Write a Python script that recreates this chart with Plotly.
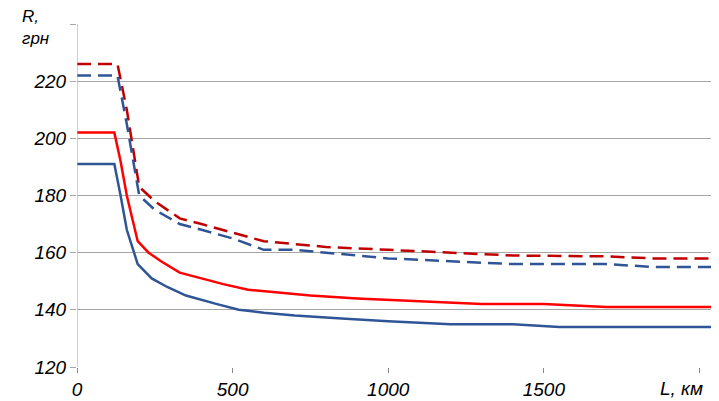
import plotly.graph_objects as go

# distance, km
x_rd = [0, 130, 160, 200, 250, 330, 400, 500, 600, 700, 800, 1000, 1200, 1400, 1700, 1850, 2050]
y_rd = [226, 226, 210, 183, 178, 172, 170, 167, 164, 163, 162, 161, 160, 159, 158.7, 158, 158]
x_bd = [0, 130, 160, 200, 250, 330, 400, 500, 600, 700, 800, 1000, 1200, 1400, 1700, 1850, 2050]
y_bd = [222, 222, 205, 180, 175, 170, 168, 165, 161, 161, 160, 158, 157, 156, 156, 155, 155]
x_rs = [0, 120, 140, 160, 195, 230, 270, 330, 400, 470, 550, 650, 750, 900, 1100, 1300, 1500, 1700, 2050]
y_rs = [202, 202, 192, 180, 164, 160, 157, 153, 151, 149, 147, 146, 145, 144, 143, 142, 142, 141, 141]
x_bs = [0, 120, 140, 160, 195, 240, 290, 350, 450, 520, 600, 700, 850, 1000, 1200, 1400, 1550, 2050]
y_bs = [191, 191, 180, 168, 156, 151, 148, 145, 142, 140, 139, 138, 137, 136, 135, 135, 134, 134]

x_ticks = [0, 500, 1000, 1500, 2000]
x_labels = ["<i>0</i>", "<i>500</i>", "<i>1000</i>", "<i>1500</i>", ""]
y_ticks = [120, 140, 160, 180, 200, 220, 240]
y_labels = ["<i>120</i>", "<i>140</i>", "<i>160</i>", "<i>180</i>", "<i>200</i>", "<i>220</i>", ""]

red, dred, blue = "#FF0000", "#C00000", "#2F5597"

fig = go.Figure()
fig.add_trace(go.Scatter(x=x_rd, y=y_rd, mode="lines", line=dict(color=dred, width=2.5, dash="14px,7px")))
fig.add_trace(go.Scatter(x=x_bd, y=y_bd, mode="lines", line=dict(color=blue, width=2.5, dash="14px,7px")))
fig.add_trace(go.Scatter(x=x_rs, y=y_rs, mode="lines", line=dict(color=red, width=2.5)))
fig.add_trace(go.Scatter(x=x_bs, y=y_bs, mode="lines", line=dict(color=blue, width=2.5)))

font = dict(family="Liberation Sans, Arial", size=19, color="black")
fig.update_layout(
    width=719, height=401, showlegend=False,
    plot_bgcolor="white", paper_bgcolor="white",
    margin=dict(l=69, r=12, t=16, b=42),
    font=font,
)
fig.update_xaxes(range=[0, 2050], tickvals=x_ticks, ticktext=x_labels,
                 showgrid=False, zeroline=False, ticks="outside", ticklen=5,
                 tickcolor="#888", showline=False, automargin=False)
fig.update_yaxes(range=[120, 240], tickvals=y_ticks, ticktext=y_labels,
                 showgrid=True, gridcolor="#A6A6A6", gridwidth=1, zeroline=False,
                 ticks="outside", ticklen=6, tickcolor="#A6A6A6", automargin=False)
fig.add_shape(type="line", xref="x", yref="paper", x0=0, x1=0, y0=0, y1=1,
              line=dict(color="#A6A6A6", width=1))
fig.add_annotation(text="<i>R,</i><br><i>грн</i>", xref="paper", yref="paper", x=-0.065, y=1.055,
                   xanchor="center", yanchor="top", showarrow=False, align="left",
                   font=dict(size=17))
fig.add_annotation(text="<i>L, км</i>", xref="paper", yref="paper", x=0.985, y=-0.025,
                   xanchor="right", yanchor="top", showarrow=False, font=dict(size=19))

fig.write_html("out.html")
